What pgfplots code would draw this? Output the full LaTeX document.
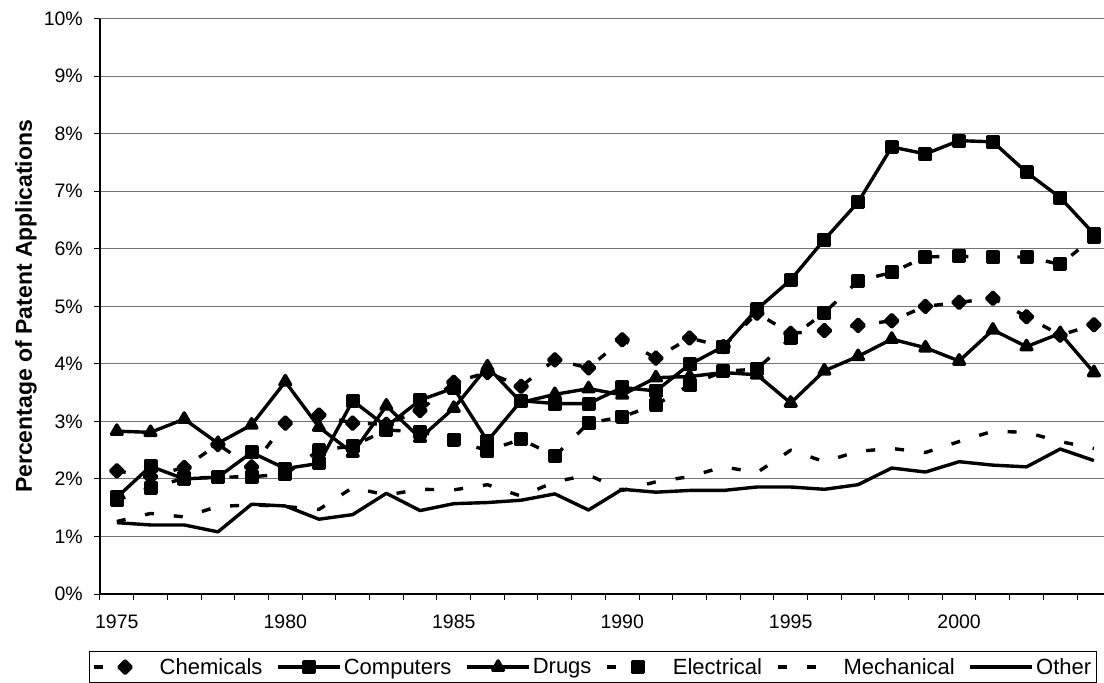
\documentclass[border=0pt]{standalone}
\usepackage{fontspec}
\setmainfont{Liberation Sans}
\usepackage{pgfplots}
\pgfplotsset{compat=1.18}
\usepackage{pgfplotstable}

\pgfplotsset{
  dashlegend/.style={legend image code/.code={\draw[mark repeat=2,mark phase=2,##1] plot coordinates {(0bp,0bp) (31bp,0bp) (56bp,0bp)}; \path (62bp,0bp);}},
  dashlinelegend/.style={legend image code/.code={\draw[##1] (0bp,0bp) -- (56bp,0bp); \path (62bp,0bp);}},
}

\pgfplotstableread{
year chem comp drugs elec mech other
1975 2.14 1.68 2.83 1.63 1.26 1.24
1976 2.04 2.22 2.81 1.85 1.40 1.20
1977 2.20 2.00 3.04 2.01 1.34 1.20
1978 2.60 2.03 2.62 2.03 1.52 1.08
1979 2.21 2.46 2.94 2.04 1.55 1.56
1980 2.97 2.18 3.69 2.08 1.52 1.53
1981 3.11 2.27 2.90 2.50 1.47 1.30
1982 2.97 3.36 2.45 2.57 1.85 1.38
1983 2.95 2.91 3.27 2.85 1.72 1.75
1984 3.19 3.37 2.71 2.82 1.82 1.45
1985 3.68 3.58 3.23 2.68 1.81 1.57
1986 3.85 2.66 3.95 2.49 1.90 1.59
1987 3.61 3.36 3.33 2.69 1.70 1.63
1988 4.07 3.31 3.47 2.40 1.95 1.74
1989 3.93 3.31 3.57 2.97 2.07 1.46
1990 4.42 3.59 3.46 3.08 1.80 1.82
1991 4.10 3.53 3.76 3.29 1.95 1.77
1992 4.45 3.99 3.78 3.63 2.04 1.80
1993 4.30 4.30 3.85 3.87 2.21 1.80
1994 4.88 4.95 3.81 3.91 2.11 1.86
1995 4.53 5.46 3.32 4.45 2.50 1.86
1996 4.58 6.16 3.88 4.89 2.30 1.82
1997 4.67 6.81 4.13 5.44 2.48 1.90
1998 4.75 7.77 4.43 5.59 2.53 2.19
1999 5.00 7.65 4.28 5.86 2.46 2.12
2000 5.07 7.88 4.05 5.87 2.65 2.30
2001 5.14 7.86 4.59 5.85 2.83 2.24
2002 4.82 7.33 4.30 5.86 2.81 2.21
2003 4.50 6.89 4.53 5.73 2.65 2.52
2004 4.68 6.26 3.85 6.20 2.53 2.32
}\datatable

\begin{document}
\begin{tikzpicture}
\begin{axis}[name=ax,
  scale only axis, width=1004bp, height=575.3bp,
  xmin=1974.5, xmax=2004.3, ymin=0, ymax=10,
  axis x line*=bottom, axis y line*=left,
  axis line style={line width=1.6bp, black},
  xtick={1974.5,1975.5,...,2003.5}, xticklabels={},
  extra x ticks={1975,1980,1985,1990,1995,2000},
  extra x tick labels={1975,1980,1985,1990,1995,2000},
  extra x tick style={major tick length=0pt, grid=none},
  ytick={0,1,...,10},
  yticklabel={\pgfmathprintnumber{\tick}\%},
  /pgf/number format/assume math mode=true,
  ymajorgrids,
  major grid style={black!55, line width=1bp},
  tick align=outside, major tick length=6bp,
  tick style={black, line width=1bp},
  tick label style={font=\fontsize{19.5bp}{23bp}\selectfont},
  yticklabel style={anchor=east, inner sep=0pt, xshift=-11bp},
  xticklabel style={anchor=north, inner sep=0pt, yshift=-21bp},
  legend style={at={(axis description cs:-0.011,0)}, anchor=north west, yshift=-57bp,
    draw=black, line width=0.8bp, font=\fontsize{22bp}{26bp}\selectfont,
    inner xsep=3bp, inner ysep=5bp,
    /tikz/every even column/.append style={column sep=12bp}},
  legend columns=6,
  legend cell align=left,
  legend image code/.code={\draw[mark repeat=2,mark phase=2,#1] plot coordinates {(0bp,0bp) (31bp,0bp) (62bp,0bp)};},
  every axis plot/.append style={black, line width=3.4bp, line join=round},
]
\addplot[dash pattern=on 9bp off 20bp, mark=square*, mark size=4.4bp, mark options={solid, rotate=45}, dashlegend] table[x=year,y=chem] {\datatable};
\addlegendentry{Chemicals}
\addplot[solid, mark=square*, mark size=5.3bp, mark options={solid}] table[x=year,y=comp] {\datatable};
\addlegendentry{Computers}
\addplot[solid, mark=triangle*, mark size=6.2bp, mark options={solid}] table[x=year,y=drugs] {\datatable};
\addlegendentry{Drugs}
\addplot[dash pattern=on 9bp off 20bp, mark=square*, mark size=5.3bp, mark options={solid}, dashlegend] table[x=year,y=elec] {\datatable};
\addlegendentry{Electrical}
\addplot[dash pattern=on 9bp off 20bp, no marks, dashlinelegend] table[x=year,y=mech] {\datatable};
\addlegendentry{Mechanical}
\addplot[solid, no marks] table[x=year,y=other] {\datatable};
\addlegendentry{Other}
\end{axis}
\node[rotate=90, font=\fontsize{23bp}{27bp}\selectfont\bfseries] at ([xshift=-74bp]ax.west) {Percentage of Patent Applications};
\pgfresetboundingbox
\path ([shift={(-100bp,-89bp)}]ax.south west) rectangle ([shift={(1004bp,594bp)}]ax.south west);
\end{tikzpicture}
\end{document}
